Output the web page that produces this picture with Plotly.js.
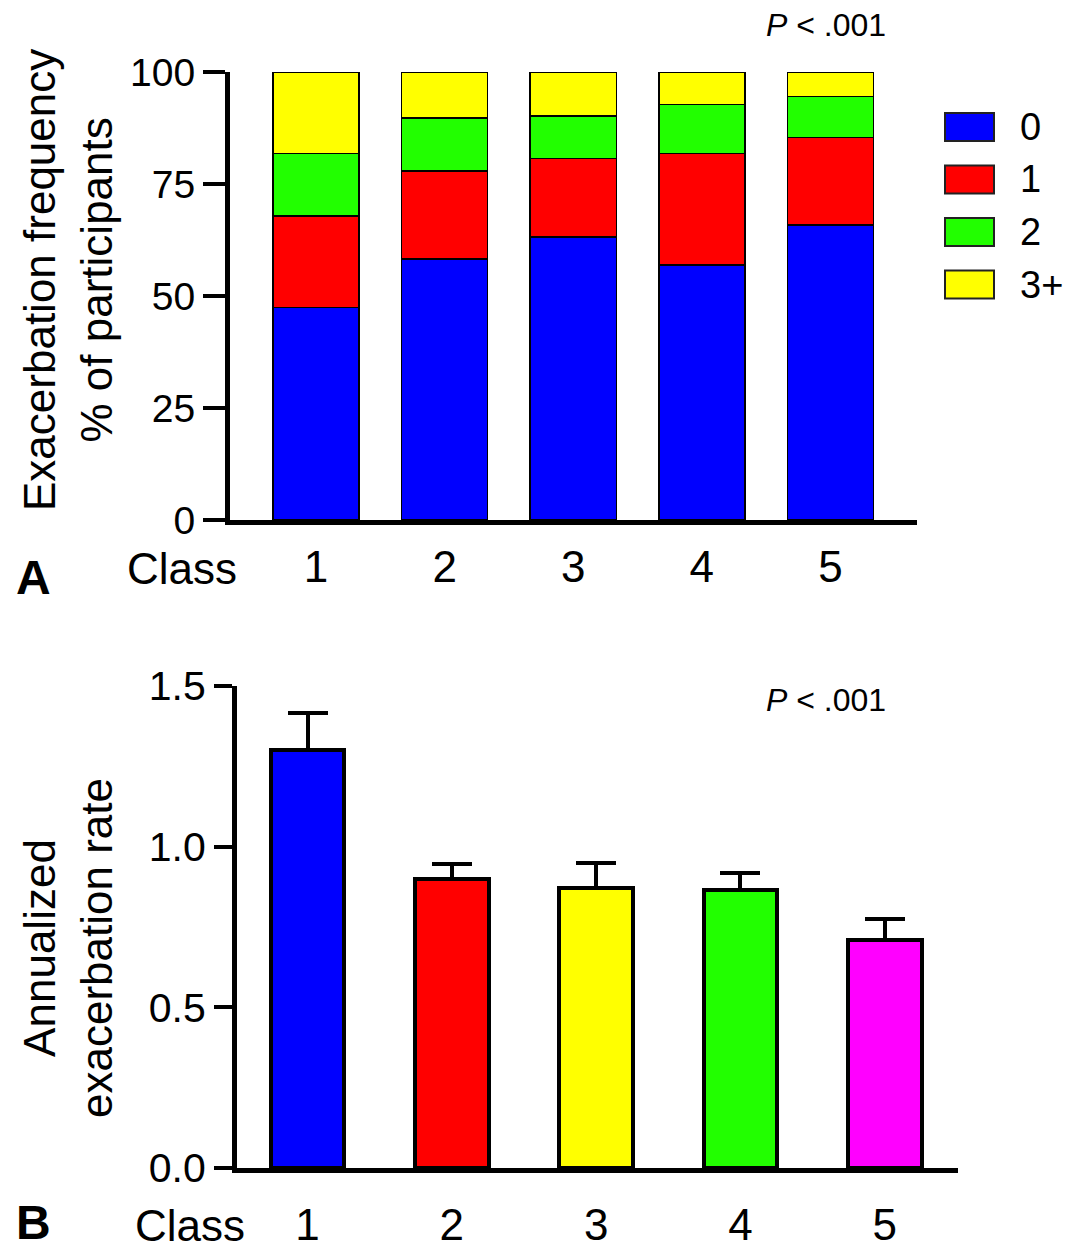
<!DOCTYPE html>
<html>
<head>
<meta charset="utf-8">
<script src="https://cdn.plot.ly/plotly-3.0.1.min.js"></script>
<style>html,body{margin:0;padding:0;background:#fff;}#chart{width:1072px;height:1251px;}</style>
</head>
<body>
<div id="chart"></div>
<script>
// ---------- data ----------
const classes = ["1", "2", "3", "4", "5"];
const seriesNames = ["0", "1", "2", "3+"];
const freq0 = [47.4, 58.3, 63.2, 56.9, 65.8];
const freq1 = [20.5, 19.6, 17.5, 24.9, 19.6];
const freq2 = [13.9, 11.8, 9.5, 11.0, 9.1];
const freq3p = [18.2, 10.3, 9.8, 7.2, 5.5];
const seriesColors = ["#0000FF", "#FF0000", "#22FF00", "#FFFF00"];
const rate = [1.30, 0.90, 0.87, 0.865, 0.71];
const rateErr = [0.116, 0.047, 0.080, 0.052, 0.064];
const rateColors = ["#0000FF", "#FF0000", "#FFFF00", "#22FF00", "#FF00FF"];
const yTicksA = [0, 25, 50, 75, 100];
const yTicksB = [0, 0.5, 1.0, 1.5];

// ---------- layout helpers ----------
const W = 1072, H = 1251;
const px = v => v / W;
const py = v => 1 - v / H;
const FONT = "Liberation Sans, Arial, Helvetica, sans-serif";

const freqSeries = [freq0, freq1, freq2, freq3p];
const traces = freqSeries.map((vals, i) => ({
  type: "bar", x: classes, y: vals, name: seriesNames[i],
  xaxis: "x", yaxis: "y", width: 0.67,
  marker: {color: seriesColors[i], line: {color: "#000", width: 1.5}},
  showlegend: false, hoverinfo: "skip"
}));
traces.push({
  type: "bar", x: classes, y: rate, xaxis: "x2", yaxis: "y2", width: 0.51,
  marker: {color: rateColors, line: {color: "#000", width: 4}},
  error_y: {type: "data", symmetric: false, array: rateErr,
            arrayminus: rateErr.map(() => 0), color: "#000", thickness: 4, width: 20},
  showlegend: false, hoverinfo: "skip"
});

const annotations = [];
const shapes = [];
// legend (panel A) built from series names / colors
const legTop = 113, legStep = 52.5;
seriesNames.forEach((n, i) => {
  const y0 = legTop + i * legStep;
  shapes.push({type: "rect", xref: "paper", yref: "paper",
    x0: px(945), x1: px(994), y0: py(y0), y1: py(y0 + 28),
    fillcolor: seriesColors[i], line: {color: "#222", width: 2}});
  annotations.push({xref: "paper", yref: "paper", x: px(1018), y: py(y0 + 14),
    xanchor: "left", yanchor: "middle", showarrow: false, text: n,
    font: {family: FONT, size: 38, color: "#000"}});
});

function txt(text, x, y, size, opts) {
  annotations.push(Object.assign({xref: "paper", yref: "paper", x: px(x), y: py(y),
    xanchor: "center", yanchor: "middle", showarrow: false, text: text,
    font: {family: FONT, size: size, color: "#000"}}, opts || {}));
}
txt("<i>P</i> < .001", 826, 25, 32);
txt("<i>P</i> < .001", 826, 700, 32);
txt("Exacerbation frequency<br>% of participants", 68, 280, 44, {textangle: -90});
txt("Annualized<br>exacerbation rate", 68, 948, 44, {textangle: -90});
txt("<b>A</b>", 33, 578, 48);
txt("<b>B</b>", 33, 1222, 48);
txt("Class", 182, 568, 44);
txt("Class", 190, 1225, 44);

const layout = {
  width: W, height: H, autosize: false,
  margin: {l: 0, r: 0, t: 0, b: 0, pad: 0},
  paper_bgcolor: "#fff", plot_bgcolor: "rgba(0,0,0,0)",
  barmode: "stack", showlegend: false,
  font: {family: FONT, color: "#000"},
  xaxis: {domain: [px(230), px(917)], anchor: "y", type: "category",
    range: [-0.669, 4.673], showline: true, linewidth: 5, linecolor: "#000",
    ticks: "", showgrid: false, zeroline: false,
    tickfont: {family: FONT, size: 44, color: "#000"}, ticklabelstandoff: 4},
  yaxis: {domain: [py(520), py(72)], anchor: "x", range: [0, 100],
    tickvals: yTicksA, showline: true, linewidth: 5, linecolor: "#000",
    ticks: "outside", ticklen: 22, tickwidth: 4, tickcolor: "#000",
    showgrid: false, zeroline: false,
    tickfont: {family: FONT, size: 39, color: "#000"}},
  xaxis2: {domain: [px(237), px(958)], anchor: "y2", type: "category",
    range: [-0.489, 4.508], showline: true, linewidth: 5, linecolor: "#000",
    ticks: "", showgrid: false, zeroline: false,
    tickfont: {family: FONT, size: 44, color: "#000"}, ticklabelstandoff: 14},
  yaxis2: {domain: [py(1168), py(686)], anchor: "x2", range: [0, 1.5],
    tickvals: yTicksB, tickformat: ".1f", showline: true, linewidth: 5, linecolor: "#000",
    ticks: "outside", ticklen: 18, tickwidth: 4, tickcolor: "#000",
    showgrid: false, zeroline: false,
    tickfont: {family: FONT, size: 41, color: "#000"}},
  annotations: annotations,
  shapes: shapes
};

Plotly.newPlot("chart", traces, layout, {staticPlot: true, displayModeBar: false});
</script>
</body>
</html>
